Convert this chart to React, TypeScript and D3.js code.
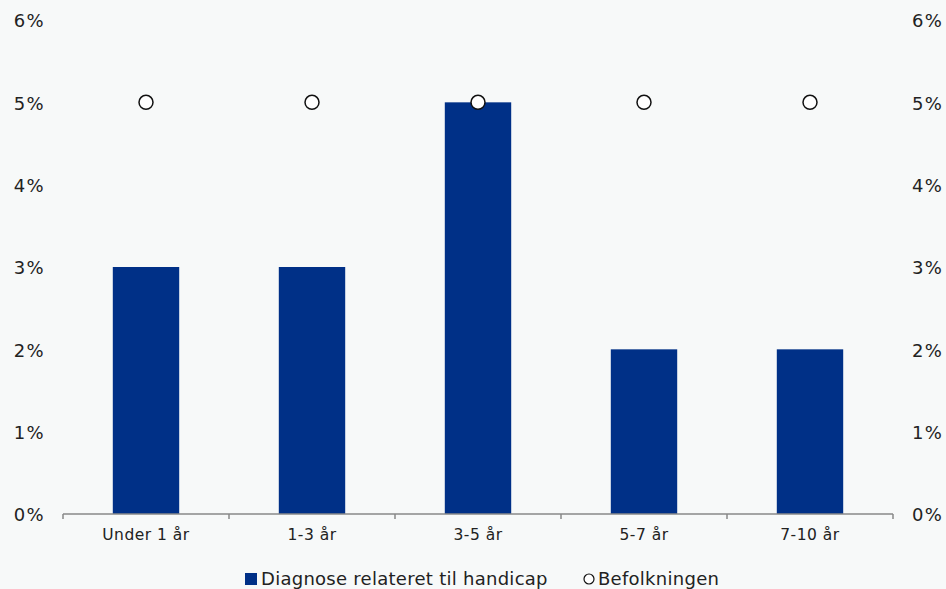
import React from "react";
import * as d3 from "d3";

const categories = ["Under 1 år", "1-3 år", "3-5 år", "5-7 år", "7-10 år"];
const diagnoseValues = [3, 3, 5, 2, 2];
const befolkningValues = [5, 5, 5, 5, 5];
const yTicks = [0, 1, 2, 3, 4, 5, 6];
const seriesNames = ["Diagnose relateret til handicap", "Befolkningen"];

const W = 946;
const H = 589;
const FONT = "'DejaVu Sans', Verdana, sans-serif";
const BAR = "#003087";
const BG = "#f7f9f9";

export default function App() {
  const x = d3.scaleBand<string>().domain(categories).range([63, 893]).paddingInner(0.6).paddingOuter(0.3);
  const xb = d3.scaleBand<string>().domain(categories).range([63, 893]);
  const y = d3.scaleLinear().domain([0, 6]).range([514, 20]);
  const tickXs = [63, ...categories.map((c) => (xb(c) as number) + xb.bandwidth())];

  return (
    <div style={{ position: "absolute", left: 0, top: 0 }}>
      <svg width={W} height={H} style={{ display: "block", background: BG }}>
        <rect x={0} y={0} width={W} height={H} fill={BG} />
        {yTicks.map((t) => (
          <g key={t}>
            <text x={45} y={y(t) + 1} dy="0.35em" textAnchor="end" fontFamily={FONT} fontSize={18} letterSpacing={1.3} fill="#222">
              {t}%
            </text>
            <text x={912} y={y(t) + 1} dy="0.35em" textAnchor="start" fontFamily={FONT} fontSize={18} letterSpacing={1.3} fill="#222">
              {t}%
            </text>
          </g>
        ))}
        {categories.map((c, i) => (
          <rect key={c} x={x(c)} y={y(diagnoseValues[i])} width={x.bandwidth()} height={y(0) - y(diagnoseValues[i])} fill={BAR} />
        ))}
        <line x1={63} x2={893} y1={y(0)} y2={y(0)} stroke="#888" strokeWidth={1.5} />
        {tickXs.map((tx, i) => (
          <line key={i} x1={tx} x2={tx} y1={y(0)} y2={y(0) + 5} stroke="#888" strokeWidth={1.5} />
        ))}
        {categories.map((c) => (
          <text key={c} x={(xb(c) as number) + xb.bandwidth() / 2} y={535} dy="0.35em" textAnchor="middle" fontFamily={FONT} fontSize={15.5} letterSpacing={0.5} fill="#222">
            {c}
          </text>
        ))}
        {categories.map((c, i) => (
          <circle key={c} cx={(xb(c) as number) + xb.bandwidth() / 2} cy={y(befolkningValues[i])} r={7} fill="#fff" stroke="#111" strokeWidth={1.5} />
        ))}
        <g>
          <rect x={245} y={573} width={12} height={12} fill={BAR} />
          <text x={261} y={579} dy="0.35em" fontFamily={FONT} fontSize={18} letterSpacing={0.27} fill="#222">
            {seriesNames[0]}
          </text>
          <circle cx={589} cy={579} r={5} fill="#fff" stroke="#111" strokeWidth={1.2} />
          <text x={598} y={579} dy="0.35em" fontFamily={FONT} fontSize={18} letterSpacing={0.27} fill="#222">
            {seriesNames[1]}
          </text>
        </g>
      </svg>
    </div>
  );
}
